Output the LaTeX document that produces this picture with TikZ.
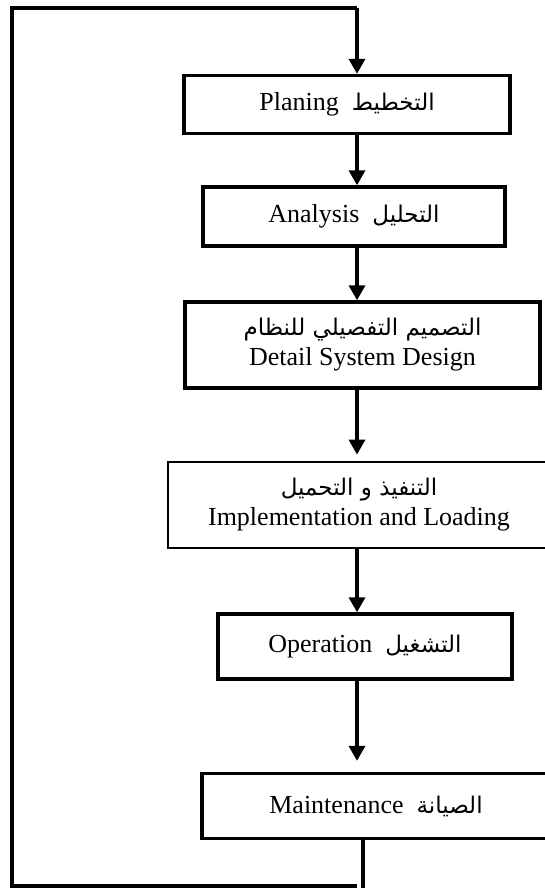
\documentclass[tikz,border=0pt]{standalone}
\usepackage{fontspec}
\setmainfont{Liberation Serif}
\newfontfamily\arabicfont[Script=Arabic]{DejaVu Sans}
\TeXXeTstate=1
\usetikzlibrary{arrows.meta}
\newcommand{\arab}[1]{{\arabicfont\fontsize{23}{28}\selectfont\beginR #1\endR}}
\newcommand{\wordgap}{\hspace{0.5em}}
\begin{document}
\begin{tikzpicture}[x=1pt,y=-1pt,
		box/.style={draw,line width=3.4pt,inner sep=0pt,align=center,font=\fontsize{26}{30}\selectfont},
		link/.style={line width=3.4pt},
		flow/.style={link,-{Triangle[length=15pt,width=16pt]}}]
		\useasboundingbox (0,0) rectangle (545,888);
		
		\coordinate (spine) at (357,8);
		\coordinate (ret) at (363,900);
		\coordinate (tl) at (12,8);
		\coordinate (bl) at (12,886);
		
		\node[box,minimum width=326pt,minimum height=58pt] (plan) at (347,104.5) {Planing\wordgap\arab{التخطيط}};
		
		\node[box,minimum width=302pt,minimum height=59pt] (anal) at (354,216.5) {Analysis\wordgap\arab{التحليل}};
		
		\node[box,minimum width=355pt,minimum height=86pt] (design) at (362.5,345) {\arab{التصميم التفصيلي للنظام}\\Detail System Design};
		
		\node[box,line width=2.8pt,minimum width=382pt,minimum height=86pt] (impl) at (359,505) {\arab{التنفيذ و التحميل}\\Implementation and Loading};
		
		\node[box,minimum width=294pt,minimum height=65pt] (oper) at (365,646.5) {Operation\wordgap\arab{التشغيل}};
		
		\node[box,minimum width=348pt,minimum height=65pt] (maint) at (376,806) {Maintenance\wordgap\arab{الصيانة}};
		
		\draw[flow] (spine) -- (plan.north -| spine);
		\draw[flow] (plan.south -| spine) -- (anal.north -| spine);
		\draw[flow] (anal.south -| spine) -- (design.north -| spine);
		\draw[flow,shorten >=6pt] (design.south -| spine) -- (impl.north -| spine);
		\draw[flow] (impl.south -| spine) -- (oper.north -| spine);
		\draw[flow,shorten >=11pt] (oper.south -| spine) -- (maint.north -| spine);
		
		% back to planning
		\draw[link] (maint.south -| ret) -- (ret);
		\draw[link] (bl -| spine) -- (bl) -- (tl) -- (spine);
	\end{tikzpicture}
\end{document}
